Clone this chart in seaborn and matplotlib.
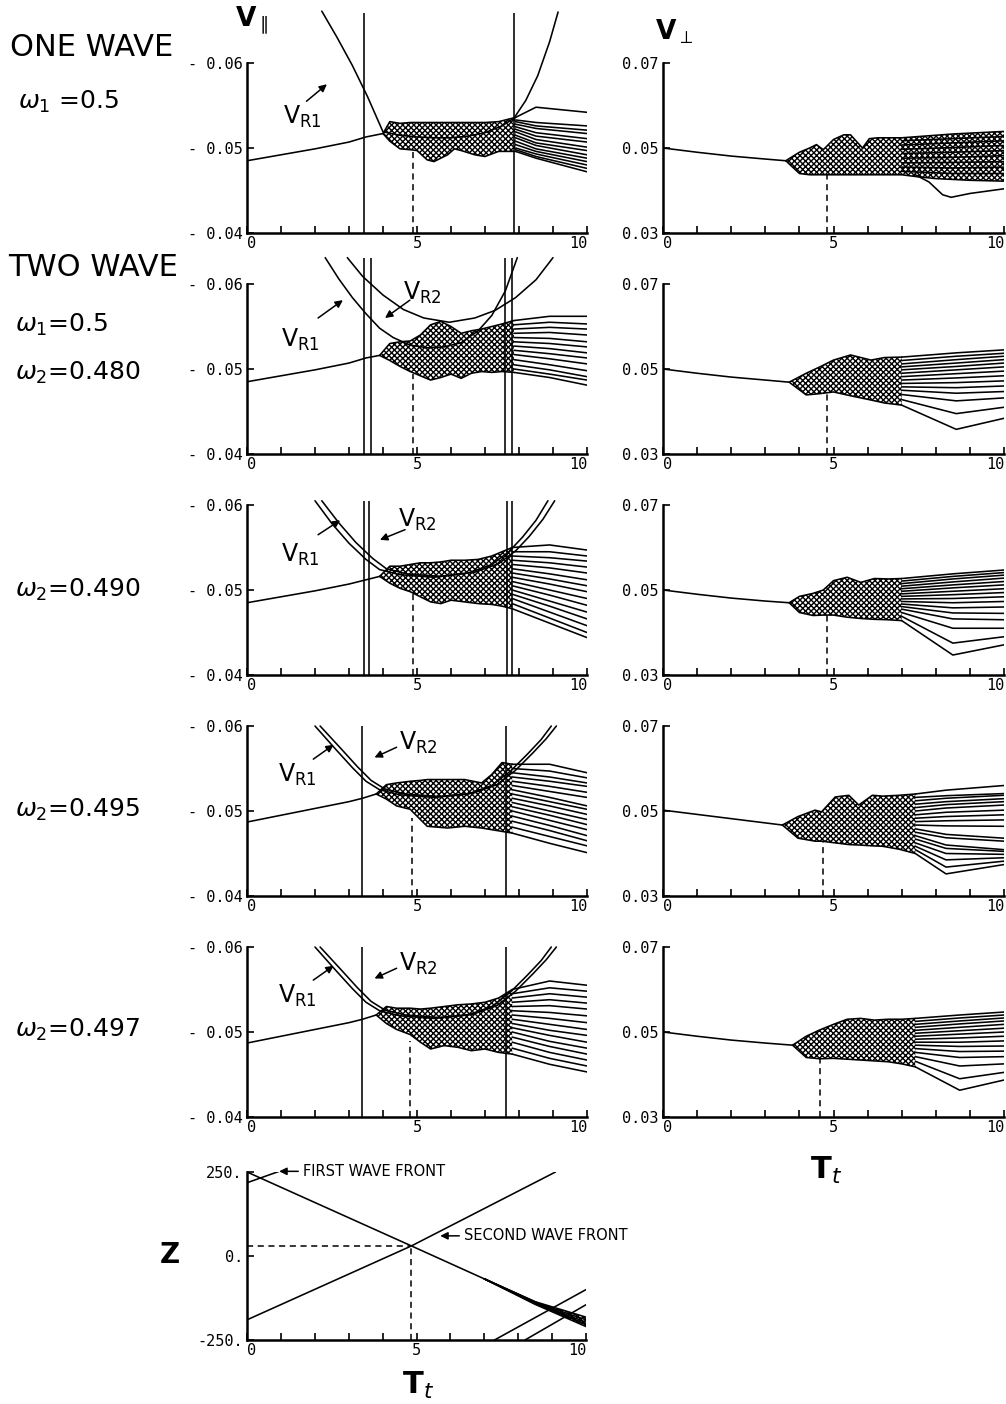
import matplotlib
matplotlib.use("Agg")
import matplotlib.pyplot as plt
import pandas as pd
import seaborn as sns

# ---------------- tick definitions ----------------
T_TICKS = [0, 5, 10]
T_TICK_LABELS = ["0", "5", "10"]
T_MINOR = [1, 2, 3, 4, 6, 7, 8, 9]
VPAR_TICKS = [-0.06, -0.05, -0.04]
VPAR_TICK_LABELS = ["- 0.06", "- 0.05", "- 0.04"]
VPERP_TICKS = [0.07, 0.05, 0.03]
VPERP_TICK_LABELS = ["0.07", "0.05", "0.03"]
Z_TICKS = [250, 0, -250]
Z_TICK_LABELS = ["250.", "0.", "-250."]

# ---------------- V_parallel, row 1 (one wave) ----------------
P1_STEM_T = [0.0, 1.0, 2.0, 3.0, 3.5, 4.0]
P1_STEM_V = [-0.0485, -0.0492, -0.0499, -0.0507, -0.0513, -0.0517]
P1_ENV_T = [4.0, 4.2, 4.5, 4.8, 5.0, 5.3, 5.5, 5.9, 6.1, 6.3, 6.7, 7.0, 7.4, 7.9]
P1_ENV_HI = [-0.0517, -0.0531, -0.0529, -0.0530, -0.0530, -0.0530, -0.0530, -0.0530, -0.0530, -0.0530, -0.0530, -0.0530, -0.0531, -0.0536]
P1_ENV_LO = [-0.0517, -0.0508, -0.0499, -0.0498, -0.0497, -0.0486, -0.0484, -0.0492, -0.0499, -0.0497, -0.0492, -0.0490, -0.0496, -0.0496]
P1_FAN_T = [7.9, 8.5, 10.0]
P1_FAN_V = [
    [-0.0536, -0.0548, -0.0542], [-0.0533, -0.0530, -0.0526], [-0.0531, -0.0526, -0.0521],
    [-0.0528, -0.0523, -0.0517], [-0.0525, -0.0518, -0.0511], [-0.0522, -0.0514, -0.0507],
    [-0.0519, -0.0510, -0.0501], [-0.0515, -0.0506, -0.0497], [-0.0512, -0.0503, -0.0492],
    [-0.0508, -0.0499, -0.0488], [-0.0504, -0.0496, -0.0484], [-0.0500, -0.0493, -0.0480],
    [-0.0498, -0.0490, -0.0476], [-0.0496, -0.0488, -0.0472],
]
P1_VR1_T = [2.2, 2.65, 3.1, 3.55, 4.0, 4.5, 5.0, 5.5, 6.0, 6.5, 7.0, 7.5, 7.85, 8.2, 8.55, 8.9, 9.15]
P1_VR1_V = [-0.0661, -0.0630, -0.0597, -0.0560, -0.0519, -0.0515, -0.0513, -0.0512, -0.0512, -0.0514, -0.0518, -0.0526, -0.0535, -0.0556, -0.0585, -0.0625, -0.0660]
P1_VLINES = [3.45, 7.85]
P1_VLINE_TOP = -0.0659
P1_DASH = (4.88, -0.0497)

# ---------------- V_parallel, row 2 (w2 = 0.480) ----------------
P2_STEM_T = [0.0, 1.0, 2.0, 3.0, 3.5, 3.9]
P2_STEM_V = [-0.0485, -0.0492, -0.0499, -0.0507, -0.0513, -0.0516]
P2_ENV_T = [3.9, 4.2, 4.5, 4.8, 5.1, 5.4, 5.7, 6.0, 6.3, 6.6, 6.9, 7.2, 7.5, 7.85]
P2_ENV_HI = [-0.0516, -0.0530, -0.0532, -0.0533, -0.0540, -0.0552, -0.0556, -0.0550, -0.0542, -0.0545, -0.0547, -0.0550, -0.0553, -0.0557]
P2_ENV_LO = [-0.0516, -0.0510, -0.0503, -0.0497, -0.0492, -0.0487, -0.0490, -0.0494, -0.0489, -0.0495, -0.0497, -0.0496, -0.0497, -0.0496]
P2_FAN_T = [7.85, 8.9, 10.0]
P2_FAN_V = [
    [-0.0557, -0.0562, -0.0562], [-0.0552, -0.0555, -0.0553], [-0.0547, -0.0549, -0.0547],
    [-0.0542, -0.0543, -0.0540], [-0.0537, -0.0536, -0.0532], [-0.0532, -0.0530, -0.0526],
    [-0.0527, -0.0524, -0.0519], [-0.0522, -0.0518, -0.0513], [-0.0517, -0.0512, -0.0506],
    [-0.0511, -0.0505, -0.0498], [-0.0505, -0.0499, -0.0491], [-0.0500, -0.0494, -0.0487],
    [-0.0496, -0.0490, -0.0481],
]
P2_VR1_T = [2.3, 2.7, 3.1, 3.5, 3.9, 4.3, 4.8, 5.3, 5.8, 6.3, 6.8, 7.2, 7.6, 7.95]
P2_VR1_V = [-0.0631, -0.0606, -0.0584, -0.0565, -0.0548, -0.0537, -0.0528, -0.0525, -0.0526, -0.0531, -0.0545, -0.0563, -0.0592, -0.0631]
P2_VR2_T = [2.95, 3.4, 4.0, 4.6, 5.2, 5.95, 6.7, 7.3, 7.9, 8.5, 9.0]
P2_VR2_V = [-0.0631, -0.0609, -0.0587, -0.0570, -0.0560, -0.0555, -0.0560, -0.0569, -0.0584, -0.0605, -0.0631]
P2_VLINES = [3.45, 3.65, 7.6, 7.8]
P2_VLINE_TOP = -0.0631
P2_DASH = (4.88, -0.0494)

# ---------------- V_parallel, row 3 (w2 = 0.490) ----------------
P3_STEM_T = [0.0, 1.0, 2.0, 3.0, 3.5, 3.9]
P3_STEM_V = [-0.0485, -0.0492, -0.0499, -0.0507, -0.0512, -0.0516]
P3_ENV_T = [3.9, 4.2, 4.5, 4.8, 5.1, 5.4, 5.7, 6.0, 6.4, 6.8, 7.2, 7.5, 7.8]
P3_ENV_HI = [-0.0516, -0.0528, -0.0528, -0.0530, -0.0532, -0.0532, -0.0533, -0.0535, -0.0535, -0.0536, -0.0540, -0.0545, -0.0550]
P3_ENV_LO = [-0.0516, -0.0508, -0.0502, -0.0498, -0.0492, -0.0486, -0.0484, -0.0488, -0.0486, -0.0484, -0.0483, -0.0481, -0.0478]
P3_FAN_T = [7.8, 8.9, 10.0]
P3_FAN_V = [
    [-0.0550, -0.0553, -0.0547], [-0.0545, -0.0545, -0.0540], [-0.0540, -0.0538, -0.0534],
    [-0.0535, -0.0532, -0.0527], [-0.0530, -0.0526, -0.0520], [-0.0525, -0.0519, -0.0512],
    [-0.0520, -0.0513, -0.0505], [-0.0515, -0.0507, -0.0498], [-0.0510, -0.0500, -0.0490],
    [-0.0505, -0.0494, -0.0482], [-0.0500, -0.0487, -0.0474], [-0.0495, -0.0481, -0.0466],
    [-0.0490, -0.0474, -0.0458], [-0.0484, -0.0467, -0.0450], [-0.0478, -0.0461, -0.0444],
]
P3_VR1_T = [2.0, 2.5, 3.0, 3.5, 3.9, 4.5, 5.5, 6.5, 7.2, 7.7, 8.1, 8.5, 8.85]
P3_VR1_V = [-0.0605, -0.0578, -0.0555, -0.0536, -0.0524, -0.0518, -0.0515, -0.0520, -0.0530, -0.0545, -0.0562, -0.0582, -0.0605]
P3_VR2_T = [2.2, 2.7, 3.2, 3.7, 4.1, 4.7, 5.7, 6.7, 7.4, 7.9, 8.3, 8.7, 9.05]
P3_VR2_V = [-0.0605, -0.0579, -0.0556, -0.0537, -0.0525, -0.0519, -0.0516, -0.0521, -0.0531, -0.0546, -0.0563, -0.0583, -0.0605]
P3_VLINES = [3.45, 3.58, 7.65, 7.78]
P3_VLINE_TOP = -0.0605
P3_DASH = (4.88, -0.0497)

# ---------------- V_parallel, row 4 (w2 = 0.495) ----------------
P4_STEM_T = [0.0, 1.0, 2.0, 3.0, 3.4, 3.8]
P4_STEM_V = [-0.0487, -0.0495, -0.0503, -0.0511, -0.0515, -0.0520]
P4_ENV_T = [3.8, 4.1, 4.4, 4.8, 5.1, 5.3, 5.9, 6.4, 6.9, 7.2, 7.5, 7.8]
P4_ENV_HI = [-0.0520, -0.0531, -0.0533, -0.0535, -0.0536, -0.0537, -0.0537, -0.0537, -0.0533, -0.0543, -0.0557, -0.0555]
P4_ENV_LO = [-0.0520, -0.0514, -0.0506, -0.0502, -0.0490, -0.0482, -0.0480, -0.0482, -0.0480, -0.0478, -0.0476, -0.0474]
P4_FAN_T = [7.8, 8.9, 10.0]
P4_FAN_V = [
    [-0.0555, -0.0555, -0.0545], [-0.0550, -0.0547, -0.0539], [-0.0545, -0.0540, -0.0533],
    [-0.0540, -0.0535, -0.0529], [-0.0535, -0.0529, -0.0522], [-0.0530, -0.0523, -0.0516],
    [-0.0525, -0.0516, -0.0506], [-0.0520, -0.0511, -0.0502], [-0.0515, -0.0506, -0.0496],
    [-0.0510, -0.0500, -0.0490], [-0.0505, -0.0495, -0.0484], [-0.0500, -0.0489, -0.0478],
    [-0.0494, -0.0483, -0.0471], [-0.0488, -0.0477, -0.0465], [-0.0481, -0.0470, -0.0459],
    [-0.0474, -0.0462, -0.0451],
]
P4_VR1_T = [2.0, 2.6, 3.1, 3.5, 3.9, 4.5, 5.5, 6.5, 7.2, 7.75, 8.25, 8.65, 8.95]
P4_VR1_V = [-0.0600, -0.0573, -0.0551, -0.0535, -0.0525, -0.0519, -0.0516, -0.0520, -0.0530, -0.0547, -0.0567, -0.0584, -0.0600]
P4_VR2_T = [2.15, 2.75, 3.25, 3.65, 4.05, 4.65, 5.65, 6.65, 7.35, 7.9, 8.4, 8.8, 9.1]
P4_VR2_V = [-0.0600, -0.0574, -0.0552, -0.0536, -0.0526, -0.0520, -0.0517, -0.0521, -0.0531, -0.0548, -0.0568, -0.0585, -0.0600]
P4_VLINES = [3.38, 7.62]
P4_VLINE_TOP = -0.0600
P4_DASH = (4.85, -0.0492)

# ---------------- V_parallel, row 5 (w2 = 0.497) ----------------
P5_STEM_T = [0.0, 1.0, 2.0, 3.0, 3.4, 3.8]
P5_STEM_V = [-0.0487, -0.0495, -0.0503, -0.0511, -0.0515, -0.0520]
P5_ENV_T = [3.8, 4.1, 4.4, 4.8, 5.1, 5.4, 5.8, 6.2, 6.6, 7.0, 7.4, 7.8]
P5_ENV_HI = [-0.0520, -0.0530, -0.0528, -0.0528, -0.0527, -0.0528, -0.0530, -0.0532, -0.0533, -0.0535, -0.0540, -0.0550]
P5_ENV_LO = [-0.0520, -0.0510, -0.0503, -0.0497, -0.0488, -0.0480, -0.0484, -0.0482, -0.0478, -0.0480, -0.0476, -0.0474]
P5_FAN_T = [7.8, 8.9, 10.0]
P5_FAN_V = [
    [-0.0550, -0.0560, -0.0555], [-0.0545, -0.0552, -0.0548], [-0.0540, -0.0545, -0.0541],
    [-0.0535, -0.0538, -0.0534], [-0.0530, -0.0531, -0.0527], [-0.0525, -0.0523, -0.0519],
    [-0.0520, -0.0516, -0.0511], [-0.0515, -0.0509, -0.0503], [-0.0510, -0.0502, -0.0496],
    [-0.0505, -0.0496, -0.0488], [-0.0500, -0.0489, -0.0481], [-0.0494, -0.0483, -0.0474],
    [-0.0488, -0.0476, -0.0467], [-0.0481, -0.0469, -0.0460], [-0.0474, -0.0462, -0.0453],
]
P5_VR1_T = [2.0, 2.6, 3.1, 3.5, 3.9, 4.5, 5.5, 6.5, 7.2, 7.75, 8.25, 8.65, 8.95]
P5_VR1_V = [-0.0600, -0.0573, -0.0551, -0.0535, -0.0525, -0.0519, -0.0516, -0.0520, -0.0530, -0.0547, -0.0567, -0.0584, -0.0600]
P5_VR2_T = [2.15, 2.75, 3.25, 3.65, 4.05, 4.65, 5.65, 6.65, 7.35, 7.9, 8.4, 8.8, 9.1]
P5_VR2_V = [-0.0600, -0.0574, -0.0552, -0.0536, -0.0526, -0.0520, -0.0517, -0.0521, -0.0531, -0.0548, -0.0568, -0.0585, -0.0600]
P5_VLINES = [3.38, 7.62]
P5_VLINE_TOP = -0.0600
P5_DASH = (4.8, -0.0490)

# ---------------- V_perp, rows 1..5 ----------------
Q1_STEM_T = [0.0, 1.0, 2.0, 3.0, 3.6]
Q1_STEM_V = [0.0500, 0.0490, 0.0481, 0.0474, 0.0470]
Q1_ENV_T = [3.6, 4.0, 4.3, 4.5, 4.7, 5.0, 5.3, 5.5, 5.85, 6.05, 6.3, 7.0, 7.5, 8.0, 8.5, 9.0, 10.0]
Q1_ENV_HI = [0.0470, 0.0490, 0.0500, 0.0508, 0.0496, 0.0520, 0.0531, 0.0531, 0.0500, 0.0522, 0.0524, 0.0524, 0.0527, 0.0530, 0.0533, 0.0535, 0.0539]
Q1_ENV_LO = [0.0470, 0.0440, 0.0437, 0.0437, 0.0437, 0.0437, 0.0437, 0.0437, 0.0437, 0.0437, 0.0437, 0.0437, 0.0432, 0.0428, 0.0426, 0.0424, 0.0422]
Q1_FAN_T = [7.0, 8.5, 10.0]
Q1_FAN_V = [
    [0.0517, 0.0522, 0.0527], [0.0507, 0.0512, 0.0517], [0.0497, 0.0501, 0.0506],
    [0.0487, 0.0490, 0.0494], [0.0476, 0.0478, 0.0482], [0.0465, 0.0466, 0.0468],
    [0.0455, 0.0453, 0.0455], [0.0445, 0.0440, 0.0440],
]
Q1_LOW_T = [7.4, 7.8, 8.2, 8.45, 9.0, 10.0]
Q1_LOW_V = [0.0437, 0.0420, 0.0390, 0.0384, 0.0393, 0.0404]
Q1_DASH = (4.8, 0.0437)

Q2_STEM_T = [0.0, 1.0, 2.0, 3.0, 3.7]
Q2_STEM_V = [0.0500, 0.0490, 0.0481, 0.0474, 0.0469]
Q2_ENV_T = [3.7, 4.2, 4.6, 5.0, 5.5, 6.1, 6.5, 7.0]
Q2_ENV_HI = [0.0469, 0.0490, 0.0505, 0.0521, 0.0533, 0.0521, 0.0527, 0.0528]
Q2_ENV_LO = [0.0469, 0.0439, 0.0442, 0.0446, 0.0437, 0.0427, 0.0420, 0.0415]
Q2_FAN_T = [7.0, 8.6, 10.0]
Q2_FAN_V = [
    [0.0528, 0.0538, 0.0545], [0.0520, 0.0530, 0.0537], [0.0512, 0.0522, 0.0530],
    [0.0505, 0.0514, 0.0522], [0.0498, 0.0506, 0.0514], [0.0490, 0.0498, 0.0505],
    [0.0482, 0.0489, 0.0495], [0.0474, 0.0479, 0.0484], [0.0466, 0.0468, 0.0472],
    [0.0458, 0.0456, 0.0460], [0.0450, 0.0443, 0.0447], [0.0440, 0.0425, 0.0432],
    [0.0428, 0.0395, 0.0410], [0.0415, 0.0358, 0.0384],
]
Q2_DASH = (4.8, 0.0444)

Q3_STEM_T = [0.0, 1.0, 2.0, 3.0, 3.7]
Q3_STEM_V = [0.0500, 0.0490, 0.0481, 0.0474, 0.0470]
Q3_ENV_T = [3.7, 4.0, 4.4, 4.7, 5.0, 5.4, 5.8, 6.2, 6.6, 7.0]
Q3_ENV_HI = [0.0470, 0.0485, 0.0492, 0.0500, 0.0522, 0.0530, 0.0518, 0.0527, 0.0526, 0.0527]
Q3_ENV_LO = [0.0470, 0.0447, 0.0440, 0.0441, 0.0441, 0.0436, 0.0433, 0.0431, 0.0430, 0.0428]
Q3_FAN_T = [7.0, 8.5, 10.0]
Q3_FAN_V = [
    [0.0527, 0.0538, 0.0547], [0.0521, 0.0532, 0.0541], [0.0515, 0.0526, 0.0535],
    [0.0509, 0.0519, 0.0528], [0.0503, 0.0512, 0.0520], [0.0497, 0.0505, 0.0512],
    [0.0491, 0.0497, 0.0503], [0.0485, 0.0489, 0.0494], [0.0479, 0.0480, 0.0484],
    [0.0473, 0.0470, 0.0473], [0.0467, 0.0458, 0.0460], [0.0461, 0.0446, 0.0445],
    [0.0455, 0.0432, 0.0430], [0.0447, 0.0410, 0.0410], [0.0438, 0.0375, 0.0390],
    [0.0428, 0.0347, 0.0371],
]
Q3_DASH = (4.8, 0.0441)

Q4_STEM_T = [0.0, 1.0, 2.0, 3.0, 3.5]
Q4_STEM_V = [0.0502, 0.0492, 0.0482, 0.0472, 0.0467]
Q4_ENV_T = [3.5, 3.96, 4.46, 4.65, 5.05, 5.45, 5.74, 6.14, 6.44, 6.93, 7.4]
Q4_ENV_HI = [0.0467, 0.0487, 0.0502, 0.0498, 0.0533, 0.0537, 0.0514, 0.0537, 0.0535, 0.0537, 0.0540]
Q4_ENV_LO = [0.0467, 0.0436, 0.0429, 0.0429, 0.0425, 0.0421, 0.0420, 0.0418, 0.0417, 0.0410, 0.0400]
Q4_FAN_T = [7.4, 8.3, 10.0]
Q4_FAN_V = [
    [0.0540, 0.0549, 0.0560], [0.0532, 0.0536, 0.0541], [0.0524, 0.0530, 0.0537],
    [0.0516, 0.0522, 0.0529], [0.0508, 0.0515, 0.0522], [0.0500, 0.0507, 0.0514],
    [0.0491, 0.0497, 0.0502], [0.0483, 0.0487, 0.0491], [0.0475, 0.0477, 0.0479],
    [0.0467, 0.0465, 0.0464], [0.0458, 0.0445, 0.0436], [0.0450, 0.0437, 0.0429],
    [0.0442, 0.0420, 0.0409], [0.0434, 0.0412, 0.0405], [0.0425, 0.0400, 0.0398],
    [0.0417, 0.0385, 0.0390], [0.0409, 0.0368, 0.0382], [0.0400, 0.0352, 0.0374],
]
Q4_DASH = (4.7, 0.0427)

Q5_STEM_T = [0.0, 1.0, 2.0, 3.0, 3.8]
Q5_STEM_V = [0.0500, 0.0490, 0.0481, 0.0474, 0.0469]
Q5_ENV_T = [3.8, 4.2, 4.6, 5.0, 5.4, 5.8, 6.2, 6.6, 7.0, 7.4]
Q5_ENV_HI = [0.0469, 0.0490, 0.0505, 0.0518, 0.0530, 0.0532, 0.0528, 0.0530, 0.0530, 0.0532]
Q5_ENV_LO = [0.0469, 0.0440, 0.0437, 0.0438, 0.0436, 0.0434, 0.0432, 0.0430, 0.0425, 0.0418]
Q5_FAN_T = [7.4, 8.7, 10.0]
Q5_FAN_V = [
    [0.0532, 0.0540, 0.0547], [0.0525, 0.0533, 0.0540], [0.0518, 0.0526, 0.0533],
    [0.0511, 0.0519, 0.0526], [0.0504, 0.0511, 0.0518], [0.0497, 0.0503, 0.0509],
    [0.0490, 0.0495, 0.0500], [0.0483, 0.0486, 0.0490], [0.0476, 0.0476, 0.0479],
    [0.0469, 0.0466, 0.0467], [0.0461, 0.0454, 0.0455], [0.0452, 0.0440, 0.0442],
    [0.0442, 0.0420, 0.0425], [0.0431, 0.0390, 0.0405], [0.0418, 0.0363, 0.0387],
]
Q5_DASH = (4.6, 0.0437)

# ---------------- Z panel ----------------
Z_FRONT1_T = [0.0, 4.85, 10.0]
Z_FRONT1_Z = [250, 30, -205]
Z_FRONT1_SHORT_T = [0.0, 0.95]
Z_FRONT1_SHORT_Z = [218, 252]
Z_FRONT2_T = [0.0, 4.85, 9.1]
Z_FRONT2_Z = [-190, 30, 250]
Z_RIBBON_T = [7.0, 8.5, 10.0]
Z_RIBBON_Z = [[-68, -136, -182], [-68, -138, -190], [-68, -140, -197], [-68, -142, -203], [-68, -144, -210]]
Z_FRONT3_T = [7.3, 10.0]
Z_FRONT3_Z = [-250, -100]
Z_FRONT4_T = [8.2, 10.0]
Z_FRONT4_Z = [-250, -145]
Z_CROSS = (4.85, 30)

# ---------------- labels ----------------
ROW_LABELS = [
    ("ONE WAVE", 10, 48, 22),
    (r"$\omega_1$ =0.5", 18, 102, 18),
    ("TWO WAVE", 8, 268, 22),
    (r"$\omega_1$=0.5", 15, 325, 18),
    (r"$\omega_2$=0.480", 15, 373, 18),
    (r"$\omega_2$=0.490", 15, 590, 18),
    (r"$\omega_2$=0.495", 15, 810, 18),
    (r"$\omega_2$=0.497", 15, 1030, 18),
]

# ---------------- style ----------------
sns.set_theme(style="ticks")
plt.rcParams["font.family"] = ["DejaVu Sans"]
plt.rcParams["mathtext.fontset"] = "dejavusans"
plt.rcParams["hatch.linewidth"] = 1.0
for key in ["text.color", "axes.labelcolor", "xtick.color", "ytick.color", "axes.edgecolor"]:
    plt.rcParams[key] = "black"
TICKFONT = "DejaVu Sans Mono"
LW = 1.15
HATCH = "xxxxxx"

W, H = 1006, 1404
fig = plt.figure(figsize=(W / 100, H / 100), dpi=100)
fig.patch.set_facecolor("white")

ROW_TOPS = [63 + 221 * i for i in range(5)]
PH = 170


def add_axes_px(x0, top, w, h):
    return fig.add_axes([x0 / W, 1 - (top + h) / H, w / W, h / H])


def style_axes(ax, yticks, ylabels, ylim):
    ax.set_xlim(0, 10)
    ax.set_ylim(*ylim)
    for s in ["top", "right"]:
        ax.spines[s].set_visible(False)
    for s in ["left", "bottom"]:
        ax.spines[s].set_linewidth(1.8)
        ax.spines[s].set_color("black")
    ax.set_xticks(T_TICKS)
    ax.set_xticks(T_MINOR, minor=True)
    ax.set_xticklabels(T_TICK_LABELS, fontfamily=TICKFONT, fontsize=11)
    for lab, ha in zip(ax.get_xticklabels(), ["left", "center", "right"]):
        lab.set_ha(ha)
    ax.set_yticks(yticks)
    ax.set_yticklabels(ylabels, fontfamily=TICKFONT, fontsize=11)
    ax.tick_params(axis="both", which="both", direction="in", length=5, width=1.2,
                   pad=2, colors="black")
    ax.tick_params(axis="y", pad=3)
    ax.set_xlabel("")
    ax.set_ylabel("")
    ax.set_facecolor("white")


def lines_frame(stem_t, stem_v, env_t, env_hi, env_lo, fan_t, fan_v, extra=()):
    rows = []
    for t, v in zip(stem_t, stem_v):
        rows.append(("stem", t, v))
    for t, v in zip(env_t, env_hi):
        rows.append(("hi", t, v))
    for t, v in zip(env_t, env_lo):
        rows.append(("lo", t, v))
    for k, vals in enumerate(fan_v):
        for t, v in zip(fan_t, vals):
            rows.append((f"fan{k}", t, v))
    for k, (et, ev) in enumerate(extra):
        for t, v in zip(et, ev):
            rows.append((f"extra{k}", t, v))
    return pd.DataFrame(rows, columns=["line", "t", "v"])


def draw_bundle(ax, stem_t, stem_v, env_t, env_hi, env_lo, fan_t, fan_v, extra=()):
    df = lines_frame(stem_t, stem_v, env_t, env_hi, env_lo, fan_t, fan_v, extra)
    sns.lineplot(data=df, x="t", y="v", units="line", estimator=None, sort=False,
                 color="black", linewidth=LW, ax=ax, legend=False)
    ax.fill_between(env_t, env_hi, env_lo, facecolor="none", edgecolor="black",
                    hatch=HATCH, linewidth=0)


def arrow(ax, tail, head):
    ax.annotate("", xy=head, xytext=tail, annotation_clip=False,
                arrowprops=dict(arrowstyle="-|>", color="black", lw=1.1,
                                mutation_scale=11, shrinkA=0, shrinkB=0))


PAR = [
    (P1_STEM_T, P1_STEM_V, P1_ENV_T, P1_ENV_HI, P1_ENV_LO, P1_FAN_T, P1_FAN_V,
     [(P1_VR1_T, P1_VR1_V)], P1_VLINES, P1_VLINE_TOP, P1_DASH),
    (P2_STEM_T, P2_STEM_V, P2_ENV_T, P2_ENV_HI, P2_ENV_LO, P2_FAN_T, P2_FAN_V,
     [(P2_VR1_T, P2_VR1_V), (P2_VR2_T, P2_VR2_V)], P2_VLINES, P2_VLINE_TOP, P2_DASH),
    (P3_STEM_T, P3_STEM_V, P3_ENV_T, P3_ENV_HI, P3_ENV_LO, P3_FAN_T, P3_FAN_V,
     [(P3_VR1_T, P3_VR1_V), (P3_VR2_T, P3_VR2_V)], P3_VLINES, P3_VLINE_TOP, P3_DASH),
    (P4_STEM_T, P4_STEM_V, P4_ENV_T, P4_ENV_HI, P4_ENV_LO, P4_FAN_T, P4_FAN_V,
     [(P4_VR1_T, P4_VR1_V), (P4_VR2_T, P4_VR2_V)], P4_VLINES, P4_VLINE_TOP, P4_DASH),
    (P5_STEM_T, P5_STEM_V, P5_ENV_T, P5_ENV_HI, P5_ENV_LO, P5_FAN_T, P5_FAN_V,
     [(P5_VR1_T, P5_VR1_V), (P5_VR2_T, P5_VR2_V)], P5_VLINES, P5_VLINE_TOP, P5_DASH),
]

PERP = [
    (Q1_STEM_T, Q1_STEM_V, Q1_ENV_T, Q1_ENV_HI, Q1_ENV_LO, Q1_FAN_T, Q1_FAN_V,
     [(Q1_LOW_T, Q1_LOW_V)], Q1_DASH),
    (Q2_STEM_T, Q2_STEM_V, Q2_ENV_T, Q2_ENV_HI, Q2_ENV_LO, Q2_FAN_T, Q2_FAN_V, [], Q2_DASH),
    (Q3_STEM_T, Q3_STEM_V, Q3_ENV_T, Q3_ENV_HI, Q3_ENV_LO, Q3_FAN_T, Q3_FAN_V, [], Q3_DASH),
    (Q4_STEM_T, Q4_STEM_V, Q4_ENV_T, Q4_ENV_HI, Q4_ENV_LO, Q4_FAN_T, Q4_FAN_V, [], Q4_DASH),
    (Q5_STEM_T, Q5_STEM_V, Q5_ENV_T, Q5_ENV_HI, Q5_ENV_LO, Q5_FAN_T, Q5_FAN_V, [], Q5_DASH),
]

# V_R label positions: (text t, text v, arrow tail, arrow head) per row
VR1_LABELS = [
    ((1.62, -0.0537), (1.75, -0.0555), (2.35, -0.0575)),
    ((1.56, -0.0534), (2.09, -0.0560), (2.82, -0.0581)),
    ((1.56, -0.0541), (2.09, -0.0565), (2.74, -0.0582)),
    ((1.49, -0.0543), (1.95, -0.0561), (2.55, -0.0578)),
    ((1.49, -0.0543), (1.95, -0.0561), (2.55, -0.0578)),
]
VR2_LABELS = [
    None,
    ((5.15, -0.0590), (4.79, -0.0581), (4.06, -0.0560)),
    ((5.0, -0.0582), (4.65, -0.0571), (3.91, -0.0559)),
    ((5.05, -0.0580), (4.4, -0.0575), (3.75, -0.0563)),
    ((5.05, -0.0580), (4.4, -0.0575), (3.75, -0.0563)),
]

for i in range(5):
    top = ROW_TOPS[i]
    # ---- V parallel ----
    (st, sv, et, eh, el, ft, fv, vrs, vls, vtop, dash) = PAR[i]
    ax = add_axes_px(247, top, 340, PH)
    draw_bundle(ax, st, sv, et, eh, el, ft, fv)
    for vt, vv in vrs:
        ax.plot(vt, vv, color="black", lw=LW, clip_on=False)
    ax.vlines(vls, -0.04, vtop, color="black", lw=LW, clip_on=False)
    ax.vlines([dash[0]], -0.04, dash[1], color="black", lw=1.1, linestyles=(0, (4, 3)))
    style_axes(ax, VPAR_TICKS, VPAR_TICK_LABELS, (-0.04, -0.06))
    (tx, ty), tail, head = VR1_LABELS[i]
    ax.text(tx, ty, r"$\mathrm{V}_{\mathrm{R1}}$", fontsize=17, ha="center", va="center")
    arrow(ax, tail, head)
    if VR2_LABELS[i] is not None:
        (tx, ty), tail, head = VR2_LABELS[i]
        ax.text(tx, ty, r"$\mathrm{V}_{\mathrm{R2}}$", fontsize=17, ha="center", va="center")
        arrow(ax, tail, head)

    # ---- V perp ----
    (st, sv, et, eh, el, ft, fv, extra, dash) = PERP[i]
    ax2 = add_axes_px(663, top, 341, PH)
    draw_bundle(ax2, st, sv, et, eh, el, ft, fv, extra)
    ax2.vlines([dash[0]], 0.03, dash[1], color="black", lw=1.1, linestyles=(0, (4, 3)))
    style_axes(ax2, VPERP_TICKS, VPERP_TICK_LABELS, (0.03, 0.07))

# ---------------- Z panel ----------------
axz = add_axes_px(247, 1172, 339, 168)
zrows = []
for name, tt, zz in [("f1", Z_FRONT1_T, Z_FRONT1_Z), ("f1s", Z_FRONT1_SHORT_T, Z_FRONT1_SHORT_Z),
                     ("f2", Z_FRONT2_T, Z_FRONT2_Z), ("f3", Z_FRONT3_T, Z_FRONT3_Z),
                     ("f4", Z_FRONT4_T, Z_FRONT4_Z)]:
    for t, z in zip(tt, zz):
        zrows.append((name, t, z))
for k, vals in enumerate(Z_RIBBON_Z):
    for t, z in zip(Z_RIBBON_T, vals):
        zrows.append((f"r{k}", t, z))
zdf = pd.DataFrame(zrows, columns=["line", "t", "z"])
sns.lineplot(data=zdf, x="t", y="z", units="line", estimator=None, sort=False,
             color="black", linewidth=LW, ax=axz, legend=False)
axz.fill_between(Z_RIBBON_T, Z_RIBBON_Z[0], Z_RIBBON_Z[-1], facecolor="none",
                 edgecolor="black", hatch=HATCH, linewidth=0)
axz.hlines([Z_CROSS[1]], 0, Z_CROSS[0], color="black", lw=1.1, linestyles=(0, (4, 3)))
axz.vlines([Z_CROSS[0]], -250, Z_CROSS[1], color="black", lw=1.1, linestyles=(0, (4, 3)))
style_axes(axz, Z_TICKS, Z_TICK_LABELS, (-250, 250))
axz.annotate("FIRST WAVE FRONT", xy=(0.95, 252), xytext=(1.65, 252),
             fontsize=10.5, va="center", ha="left", annotation_clip=False,
             arrowprops=dict(arrowstyle="-|>", color="black", lw=1.1, mutation_scale=11,
                             shrinkA=1, shrinkB=0))
axz.annotate("SECOND WAVE FRONT", xy=(5.7, 60), xytext=(6.4, 60),
             fontsize=10.5, va="center", ha="left", annotation_clip=False,
             arrowprops=dict(arrowstyle="-|>", color="black", lw=1.1, mutation_scale=11,
                             shrinkA=1, shrinkB=0))

# ---------------- figure texts ----------------
for txt, x, y, fs in ROW_LABELS:
    fig.text(x / W, 1 - y / H, txt, fontsize=fs, ha="left", va="center")
fig.text(252 / W, 1 - 20 / H, r"$\mathbf{V}_{\parallel}$", fontsize=19, ha="center", va="center")
fig.text(674 / W, 1 - 32 / H, r"$\mathbf{V}_{\perp}$", fontsize=19, ha="center", va="center")
fig.text(170 / W, 1 - 1255 / H, "Z", fontsize=20, ha="center", va="center", fontweight="bold")
fig.text(826 / W, 1 - 1170 / H, r"$\mathbf{T}_{t}$", fontsize=22, ha="center", va="center")
fig.text(418 / W, 1 - 1385 / H, r"$\mathbf{T}_{t}$", fontsize=22, ha="center", va="center")

fig.savefig("out.png", dpi=100, facecolor="white")
